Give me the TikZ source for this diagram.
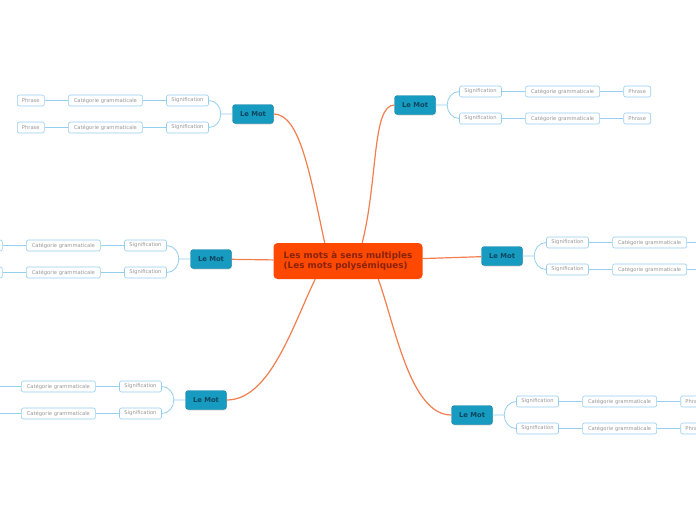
\documentclass[tikz,border=0pt]{standalone}
\usepackage{fontspec}
\setmainfont{DejaVu Sans}
\usepackage{tikz}
\usetikzlibrary{positioning, shadows}

\definecolor{rootfill}{RGB}{255,72,0}
\definecolor{roottext}{RGB}{135,35,10}
\definecolor{motfill}{RGB}{24,155,192}
\definecolor{motline}{RGB}{16,128,160}
\definecolor{mottext}{RGB}{10,70,95}
\definecolor{branchline}{RGB}{242,126,78}
\definecolor{leafline}{RGB}{150,206,240}
\definecolor{leaftext}{RGB}{150,150,150}

\begin{document}
\begin{tikzpicture}[
    x=1pt, y=1pt,
    node distance=23.5pt,
    font=\fontsize{5.2}{6}\selectfont,
    % Styles des noeuds
    root/.style={rectangle, rounded corners=4pt, fill=rootfill, text=roottext, minimum width=149pt, minimum height=36pt, align=left, font=\fontsize{8.8}{10.5}\selectfont\bfseries},
    mot/.style={rectangle, rounded corners=3pt, draw=motline, fill=motfill, text=mottext, minimum width=41pt, minimum height=19pt, inner sep=1pt, font=\fontsize{6.8}{8}\selectfont\bfseries, drop shadow={opacity=0.25, shadow xshift=0.6pt, shadow yshift=-1pt}},
    leaf/.style={rectangle, rounded corners=2pt, draw=leafline, line width=0.6pt, fill=white, text=leaftext, minimum height=11pt, inner sep=1pt},
    sig/.style={leaf, minimum width=42pt},
    cat/.style={leaf, minimum width=74pt},
    phr/.style={leaf, minimum width=27pt},
    branch/.style={draw=branchline, line width=1.2pt},
    link/.style={draw=leafline, line width=0.8pt}
]
    \useasboundingbox (0,0) rectangle (696,-520);

    % --- Noeud central ---
    \node[root] (root) at (348,-261) {Les mots à sens multiples\\(Les mots polysémiques)};

    % --- Les six "Le Mot" ---
    \node[mot] (mot_tr) at (415,-105) {Le Mot};
    \node[mot] (mot_tl) at (253,-114) {Le Mot};
    \node[mot] (mot_ml) at (211,-259) {Le Mot};
    \node[mot] (mot_mr) at (502,-256) {Le Mot};
    \node[mot] (mot_bl) at (206,-400) {Le Mot};
    \node[mot] (mot_br) at (472,-415) {Le Mot};

    % --- Branches oranges ---
    \draw[branch] (root.52) .. controls (378,-180) and (372,-105) .. (mot_tr.west);
    \draw[branch] (root.142) .. controls (310,-175) and (300,-114) .. (mot_tl.east);
    \draw[branch] (root) -- (mot_ml);
    \draw[branch] (root) -- (mot_mr);
    \draw[branch] (root.-151) .. controls (293,-325) and (270,-400) .. (mot_bl.east);
    \draw[branch] (root.-31) .. controls (395,-325) and (410,-415) .. (mot_br.west);

    % --- Haut droite ---
    \node[sig, right=of mot_tr, yshift=13.5pt] (sig_tr1) {Signification};
    \node[sig, right=of mot_tr, yshift=-13.5pt] (sig_tr2) {Signification};
    \node[cat, right=of sig_tr1] (cat_tr1) {Catégorie grammaticale};
    \node[cat, right=of sig_tr2] (cat_tr2) {Catégorie grammaticale};
    \node[phr, right=of cat_tr1] (phr_tr1) {Phrase};
    \node[phr, right=of cat_tr2] (phr_tr2) {Phrase};

    % --- Haut gauche ---
    \node[sig, left=of mot_tl, yshift=13.5pt] (sig_tl1) {Signification};
    \node[sig, left=of mot_tl, yshift=-13.5pt] (sig_tl2) {Signification};
    \node[cat, left=of sig_tl1] (cat_tl1) {Catégorie grammaticale};
    \node[cat, left=of sig_tl2] (cat_tl2) {Catégorie grammaticale};
    \node[phr, left=of cat_tl1] (phr_tl1) {Phrase};
    \node[phr, left=of cat_tl2] (phr_tl2) {Phrase};

    % --- Milieu gauche ---
    \node[sig, left=of mot_ml, yshift=13.5pt] (sig_ml1) {Signification};
    \node[sig, left=of mot_ml, yshift=-13.5pt] (sig_ml2) {Signification};
    \node[cat, left=of sig_ml1] (cat_ml1) {Catégorie grammaticale};
    \node[cat, left=of sig_ml2] (cat_ml2) {Catégorie grammaticale};
    \node[phr, left=of cat_ml1] (phr_ml1) {Phrase};
    \node[phr, left=of cat_ml2] (phr_ml2) {Phrase};

    % --- Milieu droite ---
    \node[sig, right=of mot_mr, yshift=13.5pt] (sig_mr1) {Signification};
    \node[sig, right=of mot_mr, yshift=-13.5pt] (sig_mr2) {Signification};
    \node[cat, right=of sig_mr1] (cat_mr1) {Catégorie grammaticale};
    \node[cat, right=of sig_mr2] (cat_mr2) {Catégorie grammaticale};
    \node[phr, right=of cat_mr1] (phr_mr1) {Phrase};
    \node[phr, right=of cat_mr2] (phr_mr2) {Phrase};

    % --- Bas gauche ---
    \node[sig, left=of mot_bl, yshift=13.5pt] (sig_bl1) {Signification};
    \node[sig, left=of mot_bl, yshift=-13.5pt] (sig_bl2) {Signification};
    \node[cat, left=of sig_bl1] (cat_bl1) {Catégorie grammaticale};
    \node[cat, left=of sig_bl2] (cat_bl2) {Catégorie grammaticale};
    \node[phr, left=of cat_bl1] (phr_bl1) {Phrase};
    \node[phr, left=of cat_bl2] (phr_bl2) {Phrase};

    % --- Bas droite ---
    \node[sig, right=of mot_br, yshift=13.5pt] (sig_br1) {Signification};
    \node[sig, right=of mot_br, yshift=-13.5pt] (sig_br2) {Signification};
    \node[cat, right=of sig_br1] (cat_br1) {Catégorie grammaticale};
    \node[cat, right=of sig_br2] (cat_br2) {Catégorie grammaticale};
    \node[phr, right=of cat_br1] (phr_br1) {Phrase};
    \node[phr, right=of cat_br2] (phr_br2) {Phrase};

    % --- Fourches bleues ---
    \coordinate (fork_tr) at ([xshift=11.5pt]mot_tr.east);
    \coordinate (fork_tl) at ([xshift=-11.5pt]mot_tl.west);
    \coordinate (fork_ml) at ([xshift=-11.5pt]mot_ml.west);
    \coordinate (fork_mr) at ([xshift=11.5pt]mot_mr.east);
    \coordinate (fork_bl) at ([xshift=-11.5pt]mot_bl.west);
    \coordinate (fork_br) at ([xshift=11.5pt]mot_br.east);

    \draw[link] (mot_tr) -- (fork_tr) to[out=90, in=180] (sig_tr1.west);
    \draw[link] (fork_tr) to[out=-90, in=180] (sig_tr2.west);
    \draw[link] (mot_mr) -- (fork_mr) to[out=90, in=180] (sig_mr1.west);
    \draw[link] (fork_mr) to[out=-90, in=180] (sig_mr2.west);
    \draw[link] (mot_br) -- (fork_br) to[out=90, in=180] (sig_br1.west);
    \draw[link] (fork_br) to[out=-90, in=180] (sig_br2.west);
    \draw[link] (mot_tl) -- (fork_tl) to[out=90, in=0] (sig_tl1.east);
    \draw[link] (fork_tl) to[out=-90, in=0] (sig_tl2.east);
    \draw[link] (mot_ml) -- (fork_ml) to[out=90, in=0] (sig_ml1.east);
    \draw[link] (fork_ml) to[out=-90, in=0] (sig_ml2.east);
    \draw[link] (mot_bl) -- (fork_bl) to[out=90, in=0] (sig_bl1.east);
    \draw[link] (fork_bl) to[out=-90, in=0] (sig_bl2.east);

    % --- Liens entre feuilles ---
    \draw[link] (sig_tr1) -- (cat_tr1) -- (phr_tr1);
    \draw[link] (sig_tr2) -- (cat_tr2) -- (phr_tr2);
    \draw[link] (sig_tl1) -- (cat_tl1) -- (phr_tl1);
    \draw[link] (sig_tl2) -- (cat_tl2) -- (phr_tl2);
    \draw[link] (sig_ml1) -- (cat_ml1) -- (phr_ml1);
    \draw[link] (sig_ml2) -- (cat_ml2) -- (phr_ml2);
    \draw[link] (sig_mr1) -- (cat_mr1) -- (phr_mr1);
    \draw[link] (sig_mr2) -- (cat_mr2) -- (phr_mr2);
    \draw[link] (sig_bl1) -- (cat_bl1) -- (phr_bl1);
    \draw[link] (sig_bl2) -- (cat_bl2) -- (phr_bl2);
    \draw[link] (sig_br1) -- (cat_br1) -- (phr_br1);
    \draw[link] (sig_br2) -- (cat_br2) -- (phr_br2);
\end{tikzpicture}
\end{document}
